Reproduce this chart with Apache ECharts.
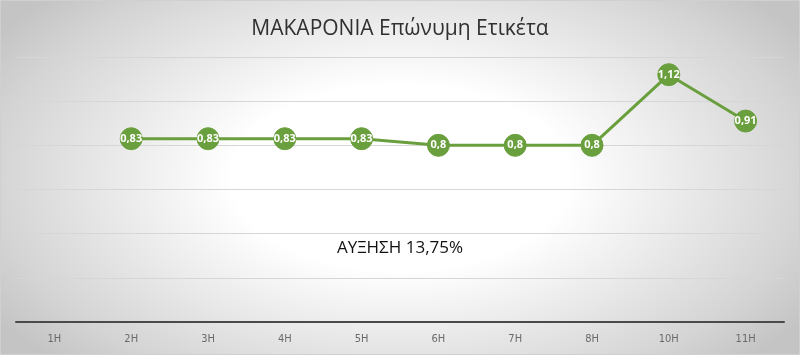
<!DOCTYPE html>
<html>
<head>
<meta charset="utf-8">
<script src="https://cdn.jsdelivr.net/npm/echarts@6/dist/echarts.min.js"></script>
<style>
  html, body { margin: 0; padding: 0; }
  #chart {
    width: 800px; height: 355px;
    background: radial-gradient(ellipse 60% 75% at 50% 50%, #ffffff 35%, #d4d4d4 85%, #c4c4c4 100%);
    box-sizing: border-box;
    border: 1px solid #d0d0d0;
  }
</style>
</head>
<body>
<div id="chart"></div>
<script>
const titleText = 'ΜΑΚΑΡΟΝΙΑ Επώνυμη Ετικέτα';
const noteText = 'ΑΥΞΗΣΗ 13,75%';
const categories = ['1Η', '2Η', '3Η', '4Η', '5Η', '6Η', '7Η', '8Η', '10Η', '11Η'];
const values = [null, 0.83, 0.83, 0.83, 0.83, 0.8, 0.8, 0.8, 1.12, 0.91];

const chart = echarts.init(document.getElementById('chart'));
chart.setOption({
  backgroundColor: 'transparent',
  animation: false,
  title: {
    text: titleText,
    left: 'center',
    top: 13,
    textStyle: { fontFamily: 'Open Sans', fontSize: 21, fontWeight: 'normal', color: '#303030' }
  },
  graphic: [{
    type: 'text',
    left: 'center',
    top: 239,
    style: { text: noteText, fontFamily: 'Open Sans', fontSize: 17, fill: '#111111' }
  }],
  grid: { left: 15, right: 15, top: 56, bottom: 32, containLabel: false },
  xAxis: {
    type: 'category',
    data: categories,
    boundaryGap: true,
    axisLine: { lineStyle: { color: '#4a4a4a', width: 2 } },
    axisTick: { show: false },
    axisLabel: { color: '#6a6a6a', fontSize: 11, fontFamily: 'Liberation Sans Narrow, DejaVu Sans Condensed, sans-serif', margin: 12 }
  },
  yAxis: {
    type: 'value',
    min: 0, max: 1.2, interval: 0.2,
    axisLabel: { show: false },
    axisLine: { show: false },
    axisTick: { show: false },
    splitLine: { lineStyle: { color: '#d6d6d6', width: 1 } }
  },
  series: [{
    type: 'line',
    data: values,
    connectNulls: false,
    symbol: 'circle',
    symbolSize: 22,
    lineStyle: { color: '#6a9f3e', width: 3 },
    itemStyle: { color: '#6a9f3e', borderColor: '#6a9f3e' },
    label: {
      show: true,
      position: 'inside',
      color: '#ffffff',
      fontSize: 11,
      fontWeight: 'bold',
      fontFamily: 'Open Sans',
      formatter: p => String(p.value).replace('.', ',')
    }
  }]
});
</script>
</body>
</html>
